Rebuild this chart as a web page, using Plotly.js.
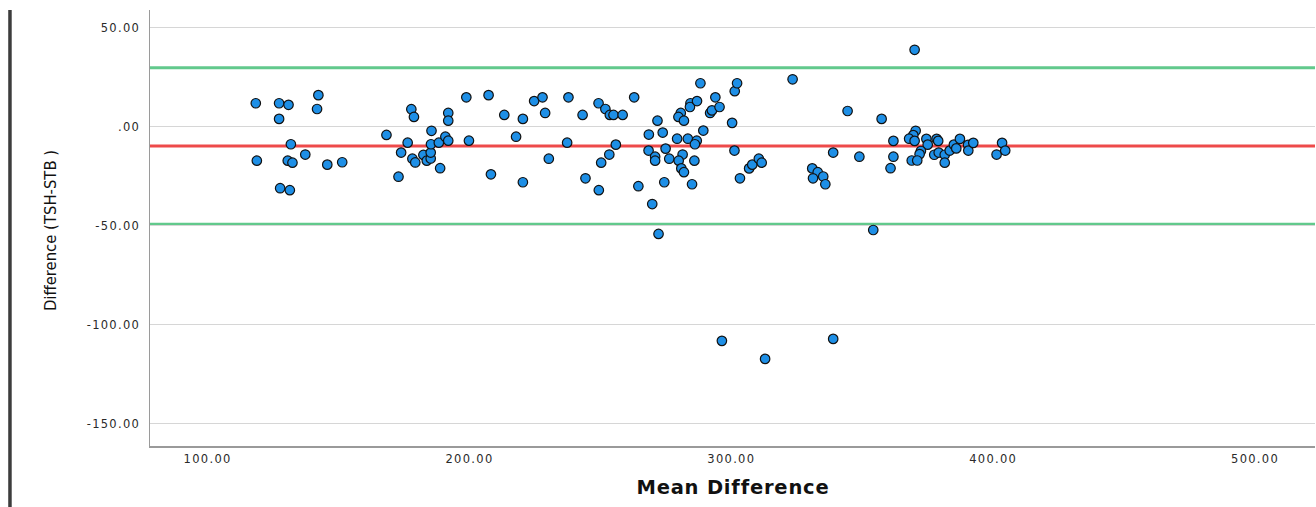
<!DOCTYPE html>
<html>
<head>
<meta charset="utf-8">
<script src="https://cdn.plot.ly/plotly-3.0.1.min.js"></script>
<style>
  html, body { margin: 0; padding: 0; background: #fff; }
  #chart { width: 1316px; height: 507px; }
  .xtick text, .ytick text { letter-spacing: 1.3px; }
  g.annotation[data-index="0"] text { letter-spacing: 0.8px; }
</style>
</head>
<body>
<div id="chart"></div>
<script>
// Mean of the two methods (x) and their difference TSH-STB (y)
const meanValues = [
  118.4,127.3,130.9,142.3,127.3,141.8,131.8,118.8,130.6,132.4,137.3,145.7,151.4,127.7,131.4,
  168.3,177.8,178.8,176.4,173.9,172.9,178.2,179.3,182.4,183.7,185.2,185.2,185.5,185.3,188.3,188.8,
  191.9,191.9,190.8,191.9,198.8,207.3,199.8,213.3,220.4,208.2,217.8,220.4,224.7,227.9,228.9,230.3,
  237.8,237.3,243.2,249.3,251.9,253.6,255.0,258.5,255.9,253.4,250.3,244.3,249.4,262.9,264.5,269.8,
  272.2,271.8,268.5,273.8,279.3,283.4,286.8,286.1,274.9,268.4,270.9,270.9,276.3,281.4,279.9,285.9,
  280.9,281.9,274.4,285.0,288.2,284.4,284.2,286.9,280.7,279.8,281.9,289.3,293.9,291.9,292.6,295.5,
  300.3,301.3,302.2,301.2,303.3,306.8,308.0,310.5,311.6,323.4,330.9,333.0,331.2,335.1,335.9,338.9,
  344.4,348.9,357.4,354.2,370.0,361.9,361.9,360.8,370.4,369.5,367.9,370.0,374.5,378.4,379.0,375.0,
  372.4,371.9,368.9,371.0,377.5,379.2,381.5,381.5,383.4,385.0,385.9,387.3,390.4,390.5,392.4,401.3,
  403.4,404.6,296.4,312.9,338.9
];
const diffValues = [
  11.8,11.8,11.0,15.9,3.9,8.9,-8.9,-17.2,-17.2,-18.2,-14.1,-19.2,-18.0,-31.1,-32.1,
  -4.2,8.8,4.9,-8.1,-13.1,-25.3,-16.2,-18.1,-14.3,-17.2,-16.1,-13.1,-2.1,-8.9,-8.1,-21.0,
  6.9,3.0,-5.1,-7.1,14.8,15.9,-7.1,5.9,3.9,-24.1,-5.1,-28.1,12.9,14.8,6.9,-16.2,
  14.8,-8.1,5.9,11.8,8.9,5.9,5.9,5.9,-9.1,-14.1,-18.2,-26.1,-32.1,14.8,-30.1,-39.1,
  -54.2,3.0,-4.0,-3.0,-6.1,-6.1,-7.1,-8.9,-11.1,-12.1,-15.2,-17.2,-16.2,-14.1,-17.2,-17.2,
  -21.1,-23.0,-28.1,-29.1,21.9,11.8,9.9,12.9,6.9,4.9,3.0,-2.0,14.8,6.9,8.2,9.9,
  1.9,17.9,21.9,-12.1,-26.1,-21.1,-19.2,-16.2,-18.2,23.9,-21.1,-23.0,-26.1,-25.2,-29.1,-13.1,
  7.9,-15.2,3.9,-52.2,38.8,-7.2,-15.2,-21.0,-2.1,-4.3,-6.1,-7.2,-6.2,-6.2,-7.2,-9.1,
  -12.3,-13.9,-17.1,-17.1,-14.2,-13.1,-14.2,-18.2,-12.1,-9.1,-11.0,-6.2,-9.2,-12.1,-8.2,-14.1,
  -8.2,-12.1,-108.2,-117.3,-107.2
];

// Bland-Altman reference lines
const meanDifference = -9.75;
const upperLimit = 29.75;
const lowerLimit = -49.25;

// Tick labels
const xTickVals = [100, 200, 300, 400, 500];
const xTickText = ['100.00', '200.00', '300.00', '400.00', '500.00'];
const yTickVals = [50, 0, -50, -100, -150];
const yTickText = ['50.00', '.00', '-50.00', '-100.00', '-150.00'];

const xTitle = 'Mean Difference';
const yTitle = 'Difference (TSH-STB )';

const trace = {
  type: 'scatter',
  mode: 'markers',
  x: meanValues,
  y: diffValues,
  marker: {
    symbol: 'circle',
    size: 9.5,
    color: '#1e8fe6',
    line: { color: '#111', width: 1.2 }
  },
  hoverinfo: 'x+y',
  showlegend: false
};

function hline(yv, color) {
  return {
    type: 'line', xref: 'paper', yref: 'y',
    x0: 0, x1: 1, y0: yv, y1: yv,
    line: { color: color, width: 3 },
    layer: 'between'
  };
}

const tickFont = { family: 'DejaVu Sans, Liberation Sans, sans-serif', size: 11.5, color: '#2a2a2a' };

const layout = {
  width: 1316,
  height: 507,
  margin: { l: 150, r: 1, t: 10, b: 61 },
  paper_bgcolor: '#ffffff',
  plot_bgcolor: '#ffffff',
  xaxis: {
    range: [78.0, 522.9],
    tickmode: 'array',
    tickvals: xTickVals,
    ticktext: xTickText,
    showgrid: false,
    zeroline: false,
    showline: true,
    linecolor: '#9a9a9a',
    linewidth: 1.5,
    ticks: '',
    tickfont: tickFont,
    ticklabelstandoff: 2
  },
  yaxis: {
    range: [-161.3, 58.9],
    tickmode: 'array',
    tickvals: yTickVals,
    ticktext: yTickText,
    showgrid: true,
    gridcolor: '#d6d6d6',
    gridwidth: 1.5,
    zeroline: false,
    showline: true,
    linecolor: '#9a9a9a',
    linewidth: 1.5,
    ticks: '',
    tickfont: tickFont,
    ticklabelstandoff: 6
  },
  shapes: [
    hline(upperLimit, '#62c98c'),
    hline(lowerLimit, '#62c98c'),
    hline(meanDifference, '#ee4a4a'),
    {
      type: 'line', xref: 'paper', yref: 'paper',
      x0: -0.1202, x1: -0.1202, y0: 1.0, y1: -0.15,
      line: { color: '#3c3c3c', width: 3.5 },
      layer: 'above'
    }
  ],
  annotations: [
    {
      text: xTitle,
      xref: 'paper', yref: 'paper',
      x: 0.5, y: -0.0963,
      xanchor: 'center', yanchor: 'middle',
      showarrow: false,
      font: { family: 'DejaVu Sans, Liberation Sans, sans-serif', size: 19.5, color: '#111', weight: 'bold' }
    },
    {
      text: yTitle,
      xref: 'paper', yref: 'paper',
      x: -0.0858, y: 0.493,
      xanchor: 'center', yanchor: 'middle',
      textangle: -90,
      showarrow: false,
      font: { family: 'DejaVu Sans Condensed, Liberation Sans Narrow, sans-serif', size: 16.5, color: '#111' }
    }
  ],
  hovermode: 'closest'
};

Plotly.newPlot('chart', [trace], layout, { displayModeBar: false, staticPlot: true });
</script>
</body>
</html>
